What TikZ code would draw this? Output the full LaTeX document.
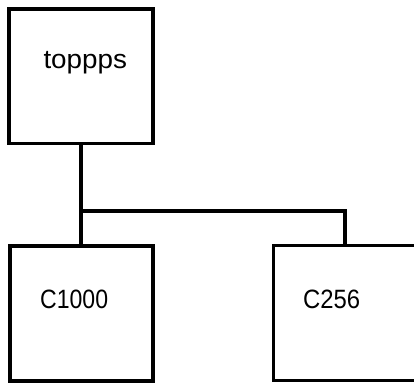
\documentclass[tikz,border=0pt]{standalone}
\usepackage{fontspec}
\usepackage{graphicx}
\setmainfont{Liberation Sans}
\begin{document}
\begin{tikzpicture}[x=1pt,y=-1pt,
  box/.style={draw=black,line width=3.3pt,minimum width=143pt,minimum height=135pt,inner sep=0pt,outer sep=0pt},
  lbl/.style={anchor=base west,inner sep=0pt,font=\fontsize{26.5}{30}\selectfont},
  wire/.style={draw=black,line width=3.3pt}]
\useasboundingbox (0,0) rectangle (414,383);
\begin{scope}
\clip (0,0) rectangle (414,383);
\node[box,minimum width=144pt,minimum height=134.5pt] (top) at (81,76.25) {};
\node[box] (left) at (81.5,313.5) {};
\node[box] (right) at (345,313) {};
\node[lbl] (ttop) at (43.3,68.3) {\scalebox{1.05}[1]{toppps}};
\node[lbl] (tleft) at (40,308.3) {\scalebox{0.87}[1]{C1000}};
\node[lbl] (tright) at (303,308.3) {\scalebox{0.9}[1]{C256}};
\coordinate (busL) at (81,211);
\coordinate (busR) at (345,211);
\draw[wire] (top.south) -- (busL) -- (busL |- left.north);
\draw[wire] ([xshift=-1.65pt]busL) -- ([xshift=1.65pt]busR);
\draw[wire] (busR) -- (right.north);
\end{scope}
\end{tikzpicture}
\end{document}
